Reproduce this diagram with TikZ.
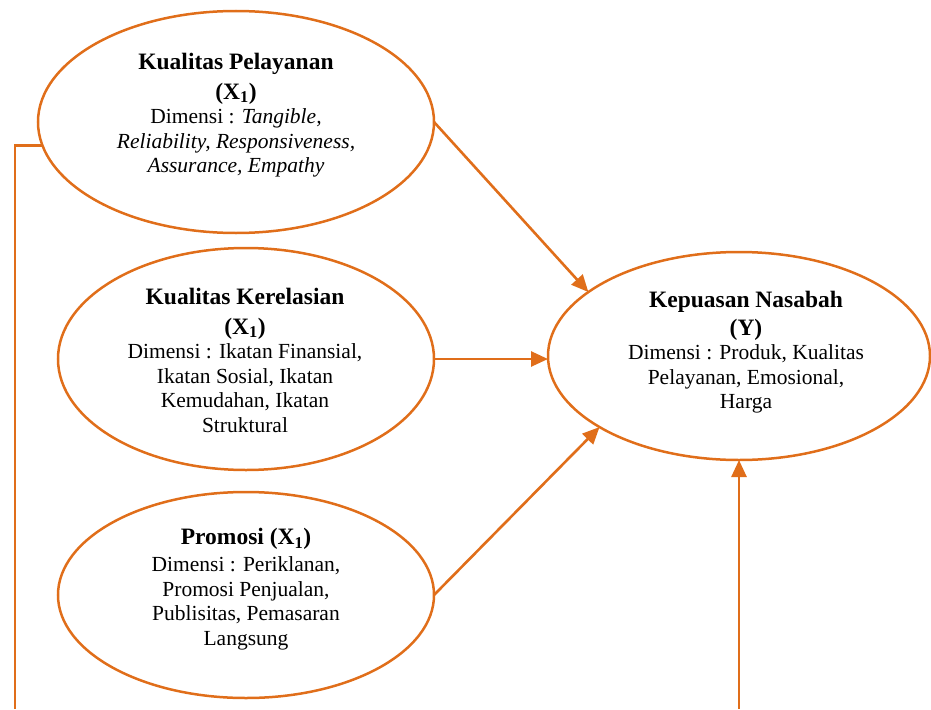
\documentclass[tikz,border=0pt]{standalone}
\usepackage{fontspec}
\setmainfont{Liberation Serif}
\usetikzlibrary{shapes.geometric,arrows.meta}
\definecolor{org}{RGB}{224,110,26}
\newcommand\bttl[1]{{\fontsize{23.5}{24.5}\selectfont\bfseries #1}}
\begin{document}
\begin{tikzpicture}[x=1pt,y=-1pt,
  ell/.style={draw=org,line width=2.5pt,ellipse,inner sep=0pt,outer sep=0pt},
  txt/.style={align=center,inner sep=0pt,font=\fontsize{21.5}{24.5}\selectfont},
  conn/.style={draw=org,line width=2.6pt},
  arr/.style={conn,-{Triangle[length=17pt,width=15pt]}}]
\useasboundingbox (0,0) rectangle (931,709);
% ellipses
\node[ell,minimum width=396pt,minimum height=222pt] (e1) at (236,122) {};
\node[ell,minimum width=376pt,minimum height=222pt] (e2) at (246,359) {};
\node[ell,minimum width=376pt,minimum height=206pt] (e3) at (246,595) {};
\node[ell,minimum width=382pt,minimum height=208pt] (y) at (739,356) {};
% texts
\node[txt] (t1) at (236,115) {\bttl{Kualitas Pelayanan}\\[5.5pt]\bttl{(X\textsubscript{1})}\\Dimensi : \textit{Tangible,}\\\textit{Reliability, Responsiveness,}\\\textit{Assurance, Empathy}};
\node[txt] (t2) at (245,360) {\bttl{Kualitas Kerelasian}\\[5.5pt]\bttl{(X\textsubscript{1})}\\Dimensi : Ikatan Finansial,\\Ikatan Sosial, Ikatan\\Kemudahan, Ikatan\\Struktural};
\node[txt] (t3) at (246,589) {\bttl{Promosi (X\textsubscript{1})}\\[2.5pt]Dimensi : Periklanan,\\Promosi Penjualan,\\Publisitas, Pemasaran\\Langsung};
\node[txt] (ty) at (746,352) {\bttl{Kepuasan Nasabah}\\[3.5pt]\bttl{(Y)}\\Dimensi : Produk, Kualitas\\Pelayanan, Emosional,\\Harga};
% connectors
\coordinate (lb) at (15,709);
\coordinate (yb) at (y.south |- 0,709);
\draw[arr] (e1.east) -- (y.157);
\draw[arr] (e2.east) -- (e2.east -| y.west);
\draw[arr] (e3.east) -- (y.207);
\draw[arr] (yb) -- (y.south);
\draw[conn] (e1.187) -| (lb);
\end{tikzpicture}
\end{document}
